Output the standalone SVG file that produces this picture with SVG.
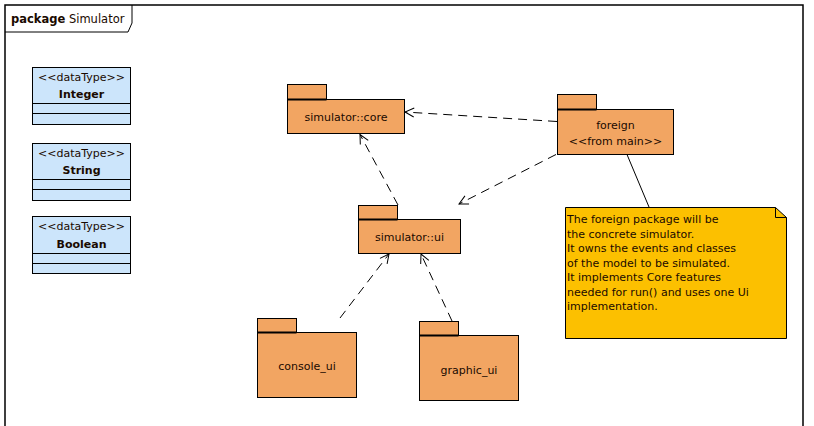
<svg xmlns="http://www.w3.org/2000/svg" width="814" height="426" viewBox="0 0 814 426">
<defs>
<style>
text{font-family:"DejaVu Sans",Verdana,sans-serif;font-size:11px;fill:#1a0a00}
.pkg{fill:#F2A562;stroke:#000;stroke-width:1}
.tabline{stroke:#000;stroke-width:2}
.dt{fill:#CCE5FB;stroke:#000;stroke-width:1}
.dtl{stroke:#000;stroke-width:1}
.dep{fill:none;stroke:#000;stroke-width:1;stroke-dasharray:9,6}
.note{fill:#FCC000;stroke:#000;stroke-width:1}
.c{text-anchor:middle}
</style>
<marker id="open" markerWidth="12" markerHeight="12" refX="10" refY="6" orient="auto" markerUnits="userSpaceOnUse">
<path d="M1,1.5 L10,6 L1,10.5" fill="none" stroke="#000" stroke-width="1"/>
</marker>
</defs>
<rect width="814" height="426" fill="#fff"/>
<g id="frame">
<path d="M5,430 V5 H803 V430" fill="none" stroke="#000" stroke-width="1.5"/>
<path d="M5,32 H128 L132,23 V5" fill="none" stroke="#000" stroke-width="1"/>
<text x="11" y="23" style="font-size:11.5px"><tspan font-weight="bold">package</tspan> Simulator</text>
</g>
<g id="Integer">
<rect class="dt" x="32.5" y="67.5" width="98" height="57"/>
<line class="dtl" x1="32.5" y1="103.5" x2="130.5" y2="103.5"/>
<line class="dtl" x1="32.5" y1="113.5" x2="130.5" y2="113.5"/>
<text class="c" x="81.5" y="81">&lt;&lt;dataType&gt;&gt;</text>
<text class="c" x="81.5" y="98" font-weight="bold">Integer</text>
</g>
<g id="String">
<rect class="dt" x="32.5" y="143.5" width="98" height="57"/>
<line class="dtl" x1="32.5" y1="179.5" x2="130.5" y2="179.5"/>
<line class="dtl" x1="32.5" y1="189.5" x2="130.5" y2="189.5"/>
<text class="c" x="81.5" y="157">&lt;&lt;dataType&gt;&gt;</text>
<text class="c" x="81.5" y="174" font-weight="bold">String</text>
</g>
<g id="Boolean">
<rect class="dt" x="32.5" y="216.5" width="98" height="57"/>
<line class="dtl" x1="32.5" y1="253.5" x2="130.5" y2="253.5"/>
<line class="dtl" x1="32.5" y1="263.5" x2="130.5" y2="263.5"/>
<text class="c" x="81.5" y="230">&lt;&lt;dataType&gt;&gt;</text>
<text class="c" x="81.5" y="248" font-weight="bold">Boolean</text>
</g>
<g id="core">
<rect class="pkg" x="287.5" y="84.5" width="39" height="15"/>
<rect class="pkg" x="287.5" y="99.5" width="117" height="34"/>
<line class="tabline" x1="287.5" y1="99.5" x2="326.5" y2="99.5"/>
<text class="c" x="346" y="121">simulator::core</text>
</g>
<g id="foreign">
<rect class="pkg" x="557.5" y="94.5" width="39" height="15"/>
<rect class="pkg" x="557.5" y="109.5" width="116" height="45"/>
<line class="tabline" x1="557.5" y1="109.5" x2="596.5" y2="109.5"/>
<text class="c" x="615.5" y="129">foreign</text>
<text class="c" x="615.5" y="145">&lt;&lt;from main&gt;&gt;</text>
</g>
<g id="ui">
<rect class="pkg" x="358.5" y="205.5" width="39" height="14"/>
<rect class="pkg" x="358.5" y="219.5" width="102" height="34"/>
<line class="tabline" x1="358.5" y1="219.5" x2="397.5" y2="219.5"/>
<text class="c" x="409.5" y="241">simulator::ui</text>
</g>
<g id="console_ui">
<rect class="pkg" x="257.5" y="318.5" width="39" height="14"/>
<rect class="pkg" x="257.5" y="332.5" width="99" height="65"/>
<line class="tabline" x1="257.5" y1="332.5" x2="296.5" y2="332.5"/>
<text class="c" x="307" y="370">console_ui</text>
</g>
<g id="graphic_ui">
<rect class="pkg" x="419.5" y="321.5" width="39" height="14"/>
<rect class="pkg" x="419.5" y="335.5" width="99" height="65"/>
<line class="tabline" x1="419.5" y1="335.5" x2="458.5" y2="335.5"/>
<text class="c" x="469" y="374">graphic_ui</text>
</g>
<g id="note">
<path class="note" d="M565.5,207.5 H775.5 L786.5,217.5 V338.5 H565.5 Z"/>
<path d="M775.5,207.5 V217.5 H786.5" fill="none" stroke="#000" stroke-width="1"/>
<text x="567" y="223">The foreign package will be</text>
<text x="567" y="237.5">the concrete simulator.</text>
<text x="567" y="252">It owns the events and classes</text>
<text x="567" y="266.5">of the model to be simulated.</text>
<text x="567" y="281">It implements Core features</text>
<text x="567" y="295.5">needed for run() and uses one Ui</text>
<text x="567" y="310">implementation.</text>
</g>
<g id="connectors">
<line class="dep" x1="557" y1="121.5" x2="405" y2="112" marker-end="url(#open)"/>
<line class="dep" x1="556" y1="154.5" x2="459" y2="204" marker-end="url(#open)"/>
<line class="dep" x1="398" y1="205" x2="360" y2="134.5" marker-end="url(#open)"/>
<line class="dep" x1="340" y1="318" x2="389" y2="254" marker-end="url(#open)"/>
<line class="dep" x1="452" y1="321" x2="421" y2="254" marker-end="url(#open)"/>
<line x1="627" y1="154.5" x2="649" y2="207" stroke="#000" stroke-width="1"/>
</g>
</svg>
